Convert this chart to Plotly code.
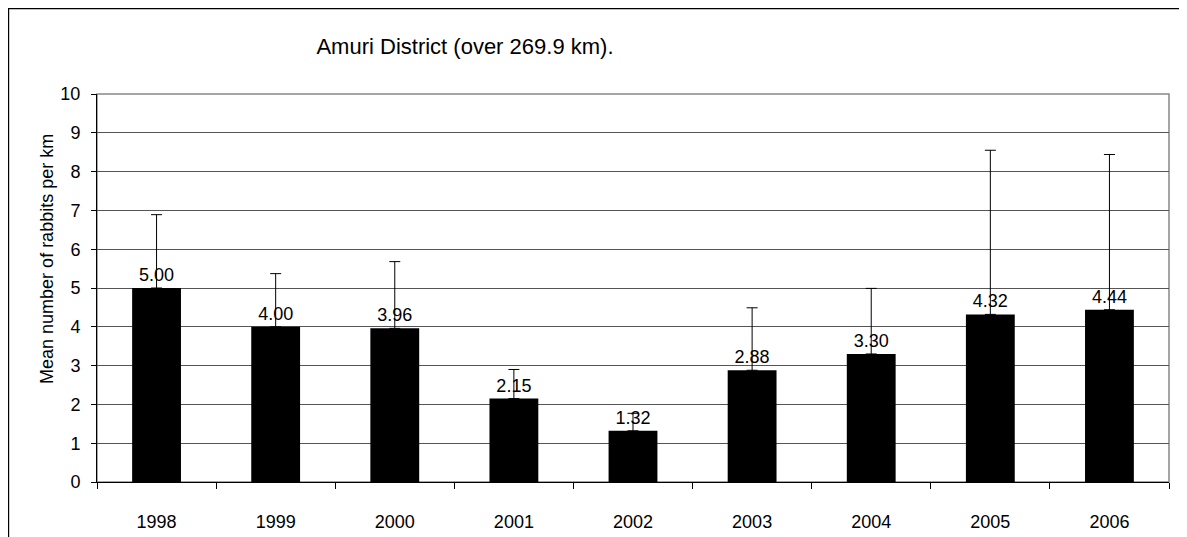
import plotly.graph_objects as go

# dados
years = ['1998', '1999', '2000', '2001', '2002', '2003', '2004', '2005', '2006']
mean_rabbits = [5.00, 4.00, 3.96, 2.15, 1.32, 2.88, 3.30, 4.32, 4.44]
err_plus = [1.89, 1.37, 1.72, 0.75, 0.45, 1.61, 1.69, 4.23, 4.00]
labels = ['%.2f' % v for v in mean_rabbits]

fig = go.Figure(go.Bar(
    x=years,
    y=mean_rabbits,
    marker=dict(color='black', line=dict(color='black', width=0)),
    text=labels,
    textposition='outside',
    textfont=dict(size=18, color='black'),
    cliponaxis=False,
    error_y=dict(type='data', array=err_plus, symmetric=False,
                 arrayminus=[0] * len(years),
                 color='black', thickness=1, width=5.5),
))

# a página tem 8px de margem no body, por isso a figura é um pouco menor
fig.update_layout(
    width=1179, height=529,
    margin=dict(l=89, r=18, t=86, b=55),
    paper_bgcolor='white', plot_bgcolor='white',
    font=dict(family='Liberation Sans, Arial', color='black'),
    bargap=0.59,
    showlegend=False,
    title=dict(text='Amuri District (over 269.9 km).', xref='container', yref='container',
               x=0.3876, xanchor='center', y=0.928, yanchor='middle',
               font=dict(size=22, color='black')),
    shapes=[
        # moldura externa
        dict(type='rect', xref='paper', yref='paper', x0=-0.0826, x1=1.0103, y0=-0.2, y1=1.2204,
             line=dict(color='black', width=1.5), layer='below'),
        # borda da área do gráfico
        dict(type='rect', xref='paper', yref='paper', x0=0, x1=1, y0=0, y1=1,
             line=dict(color='#888888', width=1.5), layer='below'),
    ],
    annotations=[
        dict(text='Mean number of rabbits per km', xref='paper', yref='paper',
             x=-0.0466, y=0.575, textangle=-90, showarrow=False,
             xanchor='center', yanchor='middle', font=dict(size=18, color='black')),
    ],
)

fig.update_xaxes(
    type='category', showline=True, linecolor='black', linewidth=1,
    ticks='outside', tickson='boundaries', ticklen=6, tickcolor='black',
    ticklabelstandoff=23, tickfont=dict(size=18), showgrid=False,
    automargin=False,
)
fig.update_yaxes(
    range=[0, 10], dtick=1, showline=True, linecolor='black', linewidth=1,
    ticks='outside', ticklen=5, tickcolor='black', tickfont=dict(size=18),
    ticklabelstandoff=7, automargin=False,
    showgrid=True, gridcolor='#555555', gridwidth=1, zeroline=False,
)

fig.write_html('out.html')
